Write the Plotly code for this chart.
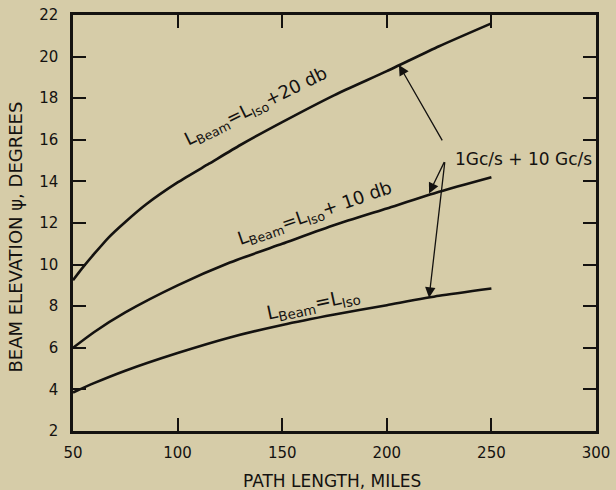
import plotly.graph_objects as go

# Path length (miles) and beam elevation (degrees) for each loss condition
path_top = [50, 55, 60, 67, 75, 85, 100, 115, 130, 150, 175, 200, 225, 250]
elev_plus20 = [9.25, 9.9, 10.5, 11.3, 12.05, 12.9, 13.95, 14.85, 15.75, 16.85, 18.15, 19.3, 20.5, 21.6]
path_miles = [50, 60, 75, 100, 125, 150, 175, 200, 225, 250]
elev_plus10 = [6.0, 6.75, 7.7, 9.0, 10.1, 11.0, 11.9, 12.7, 13.5, 14.2]
elev_iso = [3.85, 4.3, 4.9, 5.75, 6.5, 7.1, 7.6, 8.05, 8.5, 8.85]

x_ticks = [50, 100, 150, 200, 250, 300]
y_ticks = [2, 4, 6, 8, 10, 12, 14, 16, 18, 20, 22]

curve_labels = [
    "L<sub>Beam</sub>=L<sub>Iso</sub>+20 db",
    "L<sub>Beam</sub>=L<sub>Iso</sub>+ 10 db",
    "L<sub>Beam</sub>=L<sub>Iso</sub>",
]
freq_label = "1Gc/s + 10 Gc/s"
x_title = "PATH LENGTH, MILES"
y_title = "BEAM ELEVATION \u03c8, DEGREES"

BG = "#d6cca8"
INK = "#141210"
FONT = "DejaVu Sans"

fig = go.Figure()
for xs, ys in ((path_top, elev_plus20), (path_miles, elev_plus10), (path_miles, elev_iso)):
    fig.add_trace(go.Scatter(
        x=xs, y=ys, mode="lines",
        line=dict(color=INK, width=2.6, shape="spline", smoothing=0.6),
        hoverinfo="skip", showlegend=False,
    ))

# Curve labels, rotated along each curve
label_pos = [(137.5, 17.6, -26), (165.7, 12.45, -19), (165.0, 8.1, -12)]
label_sizes = [18, 18, 19]
for text, (lx, ly, ang), fs in zip(curve_labels, label_pos, label_sizes):
    fig.add_annotation(x=lx, y=ly, text=text, showarrow=False, textangle=ang,
                       font=dict(family=FONT, size=fs, color=INK))

# Frequency note with leader arrows to each curve
fig.add_annotation(x=265.5, y=15.1, text=freq_label, showarrow=False,
                   font=dict(family=FONT, size=17, color=INK))
arrows = [
    ((226.9, 15.9), (205.8, 19.6)),
    ((227.8, 15.0), (220.2, 13.42)),
    ((227.8, 15.0), (220.2, 8.41)),
]
for (sx, sy), (tx, ty) in arrows:
    fig.add_annotation(x=tx, y=ty, ax=sx, ay=sy, axref="x", ayref="y",
                       xref="x", yref="y", text="", showarrow=True,
                       arrowhead=2, arrowsize=1.6, arrowwidth=1.3,
                       arrowcolor=INK, standoff=0, startstandoff=0)

# Axis titles
fig.add_annotation(x=0.495, y=0, xref="paper", yref="paper", yshift=-50,
                   text=x_title, showarrow=False, yanchor="middle",
                   font=dict(family=FONT, size=17, color=INK))
fig.add_annotation(x=0, y=0.465, xref="paper", yref="paper", xshift=-57,
                   text=y_title, showarrow=False, textangle=-90,
                   xanchor="center", yanchor="middle",
                   font=dict(family=FONT, size=18, color=INK))

axis_common = dict(
    showgrid=False, zeroline=False, showline=True, linecolor=INK, linewidth=2.5,
    mirror="ticks", ticks="inside", ticklen=13, tickwidth=2, tickcolor=INK,
    tickfont=dict(family=FONT, size=15, color=INK), automargin=False,
)
fig.update_xaxes(range=[50, 300], tickvals=x_ticks, ticklabelstandoff=6, **axis_common)
fig.update_yaxes(range=[2, 22], tickvals=y_ticks, ticklabelstandoff=9, **axis_common)

fig.update_layout(
    width=616, height=490,
    margin=dict(l=73, r=20, t=15, b=59),
    paper_bgcolor=BG, plot_bgcolor=BG,
    showlegend=False,
)

fig.write_html("out.html")
